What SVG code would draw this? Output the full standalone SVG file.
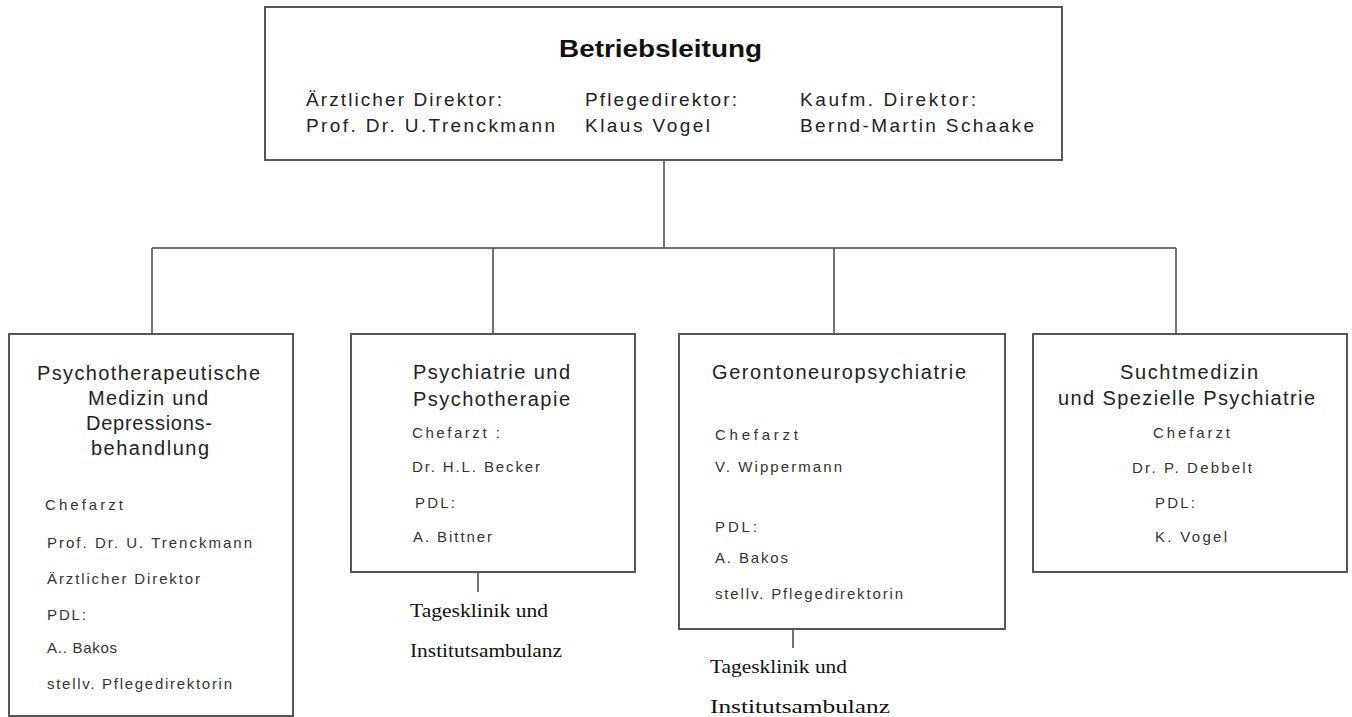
<svg xmlns="http://www.w3.org/2000/svg" width="1352" height="717" viewBox="0 0 1352 717">
<style>
.box{fill:#fff;stroke:#555;stroke-width:2}
.ln{stroke:#444;stroke-width:1.5;fill:none}
.h{font-family:"Liberation Sans",Arial,sans-serif;font-size:20px;fill:#222}
.t{font-family:"Liberation Sans",Arial,sans-serif;font-size:19px;fill:#222}
.s{font-family:"Liberation Sans",Arial,sans-serif;font-size:15px;fill:#333}
.b{font-family:"Liberation Sans",Arial,sans-serif;font-size:23px;font-weight:bold;fill:#111}
.r{font-family:"Liberation Serif","Times New Roman",serif;font-size:18px;fill:#111}
</style>
<rect width="1352" height="717" fill="#fff"/>
<g id="connectors">
<path class="ln" d="M664 160V248M152 248H1176M152 248V334M493 248V334M834 248V334M1176 248V334"/>
<path class="ln" d="M478 563V592"/>
<path class="ln" d="M793 605V648"/>
</g>
<g id="betriebsleitung">
<rect class="box" x="265" y="7" width="797" height="153"/>
<text class="b" x="559" y="57" textLength="203" lengthAdjust="spacingAndGlyphs">Betriebsleitung</text>
<text class="t" x="306" y="106" textLength="196" lengthAdjust="spacing">Ärztlicher Direktor:</text>
<text class="t" x="306" y="132" textLength="249" lengthAdjust="spacing">Prof. Dr. U.Trenckmann</text>
<text class="t" x="585" y="106" textLength="152" lengthAdjust="spacing">Pflegedirektor:</text>
<text class="t" x="585" y="132" textLength="125" lengthAdjust="spacing">Klaus Vogel</text>
<text class="t" x="800" y="106" textLength="176" lengthAdjust="spacing">Kaufm. Direktor:</text>
<text class="t" x="800" y="132" textLength="234" lengthAdjust="spacing">Bernd-Martin Schaake</text>
</g>
<g id="psychotherapeutische">
<rect class="box" x="9" y="334" width="284" height="382"/>
<text class="h" x="37" y="380" textLength="223" lengthAdjust="spacing">Psychotherapeutische</text>
<text class="h" x="88" y="405" textLength="120" lengthAdjust="spacing">Medizin und</text>
<text class="h" x="86" y="430" textLength="126" lengthAdjust="spacing">Depressions-</text>
<text class="h" x="91" y="455" textLength="118" lengthAdjust="spacing">behandlung</text>
<text class="s" x="45" y="510" textLength="78" lengthAdjust="spacing">Chefarzt</text>
<text class="s" x="47" y="548" textLength="205" lengthAdjust="spacing">Prof. Dr. U. Trenckmann</text>
<text class="s" x="47" y="584" textLength="153" lengthAdjust="spacing">Ärztlicher Direktor</text>
<text class="s" x="47" y="620" textLength="39" lengthAdjust="spacing">PDL:</text>
<text class="s" x="47" y="653" textLength="70" lengthAdjust="spacing">A.. Bakos</text>
<text class="s" x="47" y="689" textLength="185" lengthAdjust="spacing">stellv. Pflegedirektorin</text>
</g>
<g id="psychiatrie">
<rect class="box" x="351" y="334" width="284" height="238"/>
<text class="h" x="413" y="379" textLength="157" lengthAdjust="spacing">Psychiatrie und</text>
<text class="h" x="413" y="406" textLength="157" lengthAdjust="spacing">Psychotherapie</text>
<text class="s" x="412" y="438" textLength="88" lengthAdjust="spacing">Chefarzt :</text>
<text class="s" x="412" y="472" textLength="128" lengthAdjust="spacing">Dr. H.L. Becker</text>
<text class="s" x="415" y="508" textLength="40" lengthAdjust="spacing">PDL:</text>
<text class="s" x="413" y="542" textLength="79" lengthAdjust="spacing">A. Bittner</text>
</g>
<g id="tagesklinik1">
<text class="r" x="410" y="617" textLength="138" lengthAdjust="spacingAndGlyphs">Tagesklinik und</text>
<text class="r" x="410" y="657" textLength="152" lengthAdjust="spacingAndGlyphs">Institutsambulanz</text>
</g>
<g id="geronto">
<rect class="box" x="679" y="334" width="326" height="295"/>
<text class="h" x="712" y="379" textLength="254" lengthAdjust="spacing">Gerontoneuropsychiatrie</text>
<text class="s" x="715" y="440" textLength="83" lengthAdjust="spacing">Chefarzt</text>
<text class="s" x="715" y="472" textLength="127" lengthAdjust="spacing">V. Wippermann</text>
<text class="s" x="715" y="532" textLength="42" lengthAdjust="spacing">PDL:</text>
<text class="s" x="715" y="563" textLength="73" lengthAdjust="spacing">A. Bakos</text>
<text class="s" x="715" y="599" textLength="188" lengthAdjust="spacing">stellv. Pflegedirektorin</text>
</g>
<g id="tagesklinik2">
<text class="r" x="710" y="673" textLength="137" lengthAdjust="spacingAndGlyphs">Tagesklinik und</text>
<text class="r" x="710" y="713" textLength="180" lengthAdjust="spacingAndGlyphs">Institutsambulanz</text>
</g>
<g id="sucht">
<rect class="box" x="1033" y="334" width="314" height="238"/>
<text class="h" x="1120" y="379" textLength="138" lengthAdjust="spacing">Suchtmedizin</text>
<text class="h" x="1058" y="405" textLength="257" lengthAdjust="spacing">und Spezielle Psychiatrie</text>
<text class="s" x="1153" y="438" textLength="77" lengthAdjust="spacing">Chefarzt</text>
<text class="s" x="1132" y="473" textLength="120" lengthAdjust="spacing">Dr. P. Debbelt</text>
<text class="s" x="1155" y="508" textLength="40" lengthAdjust="spacing">PDL:</text>
<text class="s" x="1155" y="542" textLength="72" lengthAdjust="spacing">K. Vogel</text>
</g>
</svg>
